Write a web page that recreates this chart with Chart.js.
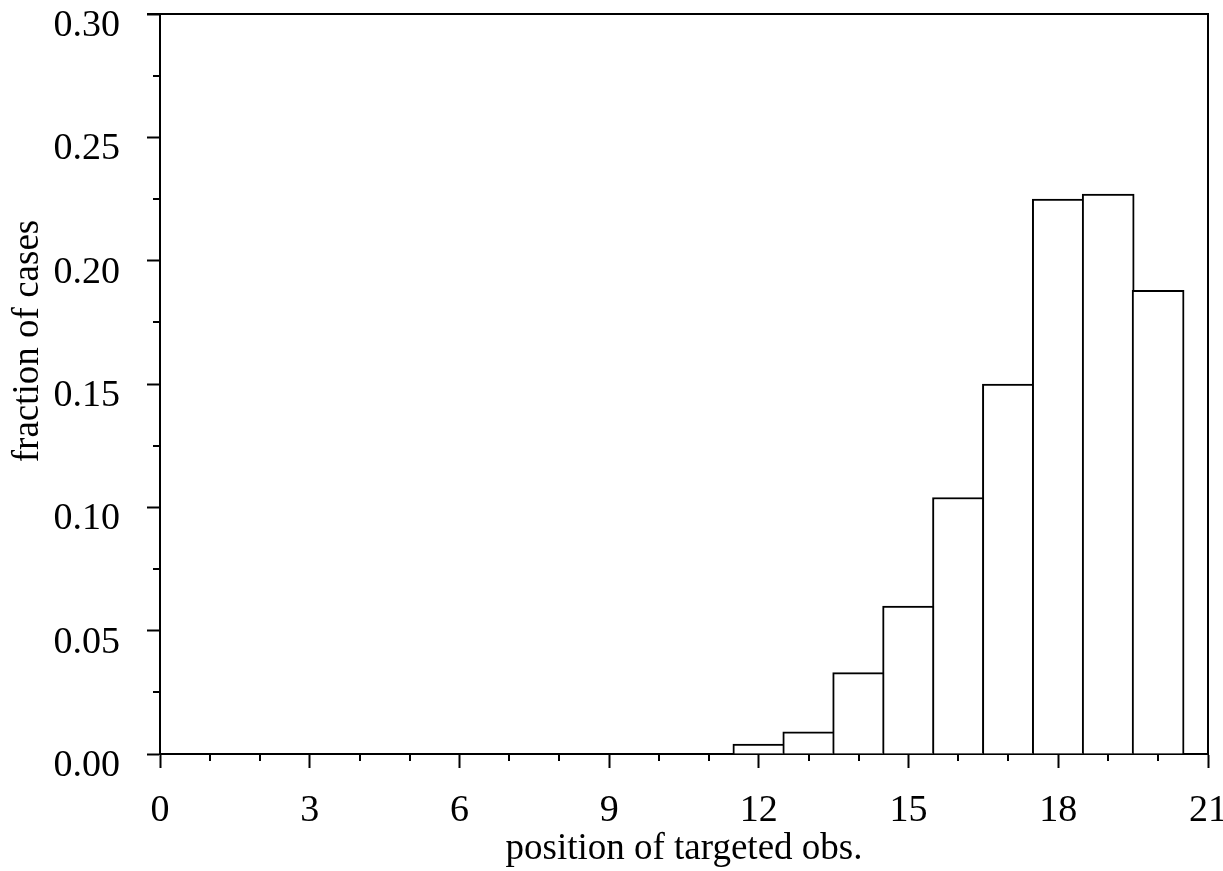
<!DOCTYPE html>
<html lang="en">
<head>
    <meta charset="UTF-8">
    <title>position of targeted obs.</title>
    <script src="https://cdn.jsdelivr.net/npm/chart.js"></script>
    <style>
        html, body {
            margin: 0;
            padding: 0;
            background: #ffffff;
        }
        .chart-container {
            width: 1223px;
            height: 871px;
        }
    </style>
</head>
<body>
    <div class="chart-container">
        <canvas id="myChart"></canvas>
    </div>

    <script>
        // positions of the targeted observation (bin centres) and fraction of cases
        const positions = [1, 2, 3, 4, 5, 6, 7, 8, 9, 10, 11, 12, 13, 14, 15, 16, 17, 18, 19, 20];
        const fractions = [0, 0, 0, 0, 0, 0, 0, 0, 0, 0, 0, 0.004, 0.009, 0.033, 0.060, 0.104, 0.150, 0.225, 0.227, 0.188];

        const xMajorStep = 3;
        const xMinorStep = 1;
        const yMajorStep = 0.05;
        const yMinorStep = 0.025;

        const serif = 'Liberation Serif';
        const ink = '#000000';

        // minor ticks, the top/right frame and the rotated y title
        const framePlugin = {
            id: 'frame',
            afterDraw(chart) {
                const c = chart.ctx;
                const area = chart.chartArea;
                const xs = chart.scales.x;
                const ys = chart.scales.y;
                c.save();
                c.strokeStyle = ink;
                c.lineWidth = 2;
                c.beginPath();
                // minor ticks on x
                for (let v = xs.min; v <= xs.max; v += xMinorStep) {
                    if (v % xMajorStep === 0) continue;
                    const px = Math.round(xs.getPixelForValue(v));
                    c.moveTo(px, area.bottom);
                    c.lineTo(px, area.bottom + 7);
                }
                // minor ticks on y
                for (let v = yMinorStep; v < ys.max; v += yMajorStep) {
                    const py = Math.round(ys.getPixelForValue(v));
                    c.moveTo(area.left - 7, py);
                    c.lineTo(area.left, py);
                }
                // top and right sides of the box
                c.moveTo(area.left - 13, area.top);
                c.lineTo(area.right, area.top);
                c.lineTo(area.right, area.bottom);
                c.stroke();

                // y axis title
                c.fillStyle = ink;
                c.font = '37px "' + serif + '"';
                c.textAlign = 'center';
                c.textBaseline = 'middle';
                c.translate(28, (area.top + area.bottom) / 2 - 43);
                c.rotate(-Math.PI / 2);
                c.fillText('fraction of cases', 0, 0);
                c.restore();
            }
        };

        const ctx = document.getElementById('myChart').getContext('2d');

        const myChart = new Chart(ctx, {
            type: 'bar',
            data: {
                datasets: [{
                    data: positions.map((p, i) => ({ x: p, y: fractions[i] })),
                    backgroundColor: '#ffffff',
                    borderColor: ink,
                    borderWidth: 2,
                    barThickness: 52
                }]
            },
            options: {
                responsive: true,
                maintainAspectRatio: false,
                animation: false,
                events: [],
                layout: {
                    padding: { left: 0, top: 14, right: 15, bottom: 0 }
                },
                plugins: {
                    legend: { display: false },
                    tooltip: { enabled: false }
                },
                scales: {
                    x: {
                        type: 'linear',
                        min: 0,
                        max: 21,
                        offset: false,
                        ticks: {
                            stepSize: xMajorStep,
                            color: ink,
                            font: { family: serif, size: 38 },
                            padding: 20,
                            maxRotation: 0,
                            autoSkip: false
                        },
                        grid: {
                            offset: false,
                            drawOnChartArea: false,
                            drawTicks: true,
                            tickLength: 14,
                            tickWidth: 2,
                            tickColor: ink
                        },
                        border: { display: true, color: ink, width: 2 },
                        title: {
                            display: true,
                            text: 'position of targeted obs.',
                            color: ink,
                            font: { family: serif, size: 37 },
                            padding: 0
                        },
                        afterFit(scale) {
                            scale.height = 117;
                            scale.paddingLeft = 0;
                            scale.paddingRight = 0;
                        }
                    },
                    y: {
                        min: 0,
                        max: 0.3,
                        ticks: {
                            stepSize: yMajorStep,
                            color: ink,
                            font: { family: serif, size: 38 },
                            padding: 27,
                            labelOffset: 12,
                            callback: (v) => v.toFixed(2)
                        },
                        grid: {
                            drawOnChartArea: false,
                            drawTicks: true,
                            tickLength: 13,
                            tickWidth: 2,
                            tickColor: ink
                        },
                        border: { display: true, color: ink, width: 2 },
                        afterFit(scale) {
                            scale.width = 160;
                            scale.paddingTop = 0;
                            scale.paddingBottom = 0;
                        }
                    }
                }
            },
            plugins: [framePlugin]
        });
    </script>
</body>
</html>
